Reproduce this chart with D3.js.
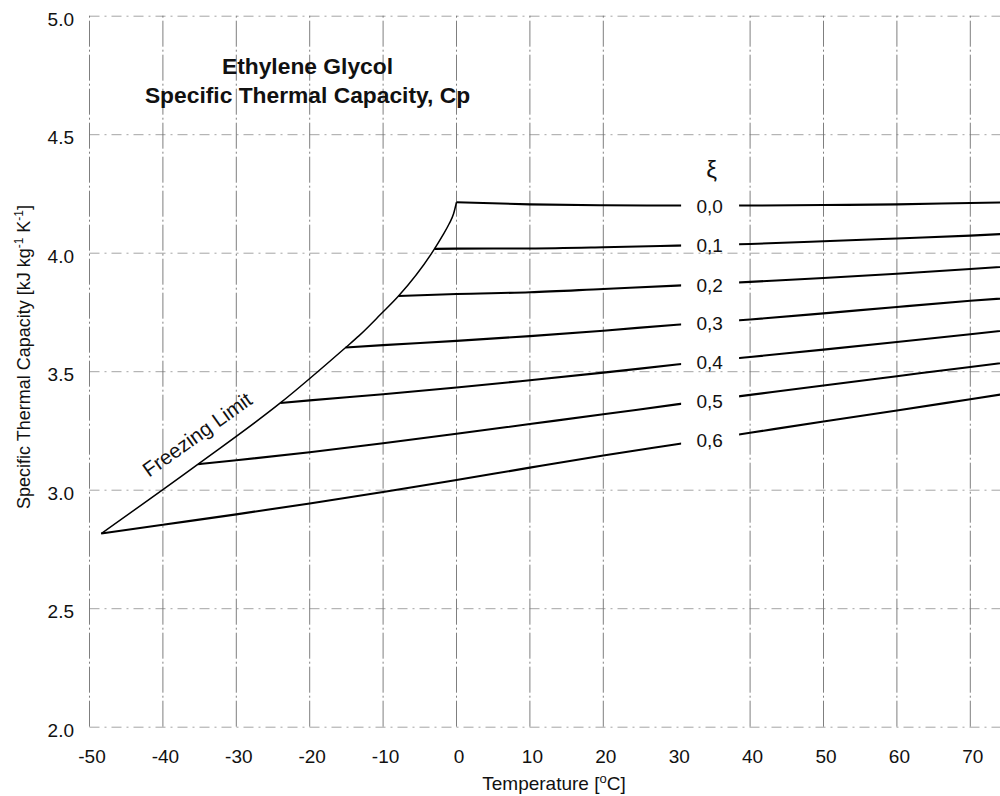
<!DOCTYPE html>
<html><head><meta charset="utf-8">
<script src="https://cdn.jsdelivr.net/npm/d3@7"></script>
<style>
body{margin:0;background:#fff}
svg{display:block}
text{font-family:"Liberation Sans",Arial,Helvetica,sans-serif;fill:#111}
</style>
</head><body>
<svg id="chart" width="1000" height="796"></svg>
<script>
// ---------------- data ----------------
const temperatures = [-40,-30,-20,-10,0,10,20,30,40,50,60,70,80];
const concentrations = ["0,0","0,1","0,2","0,3","0,4","0,5","0,6"];
const freezeT  = [0, -3.0, -7.9, -15.1, -24.0, -35.2, -48.4];
const freezeCp = [4.213, 4.016, 3.817, 3.600, 3.366, 3.108, 2.815];
const cp00 = [null,null,null,null,4.213,4.204,4.200,4.199,4.199,4.201,4.204,4.210,4.215];
const cp01 = [null,null,null,null,4.017,4.018,4.023,4.030,4.037,4.048,4.060,4.072,4.088];
const cp02 = [null,null,null,null,3.826,3.833,3.847,3.861,3.877,3.893,3.911,3.931,3.953];
const cp03 = [null,null,null,3.610,3.628,3.648,3.671,3.696,3.718,3.744,3.771,3.797,3.820];
const cp04 = [null,null,3.377,3.403,3.431,3.462,3.494,3.528,3.560,3.591,3.623,3.656,3.690];
const cp05 = [null,3.124,3.158,3.196,3.236,3.277,3.318,3.360,3.400,3.440,3.479,3.518,3.556];
const cp06 = [2.852,2.896,2.942,2.990,3.041,3.093,3.144,3.192,3.240,3.288,3.334,3.382,3.430];
const seriesValues = [cp00,cp01,cp02,cp03,cp04,cp05,cp06];
const freezingCurveT  = [-48.4,-35.2,-24.0,-15.1,-13.3,-10.3,-7.9,-3.0,-1.9,-1.0,-0.4,0];
const freezingCurveCp = [2.815,3.108,3.366,3.600,3.649,3.741,3.817,4.016,4.072,4.122,4.164,4.213];
const xTicks = [-50,-40,-30,-20,-10,0,10,20,30,40,50,60,70];
const xGridTicks = [-50,-40,-30,-20,-10,0,10,20,40,50,60,70,80];
const yTicks = [2.0,2.5,3.0,3.5,4.0,4.5,5.0];
const titleLines = ["Ethylene Glycol","Specific Thermal Capacity, Cp"];
const labelGap = [30.6, 38.5];   // temperature range left free for the ξ labels
const labelT = 34.5;

// ---------------- layout ----------------
const svg = d3.select("#chart");
const x = d3.scaleLinear().domain([-50,80]).range([89.5, 1043.7]);
const y = d3.scaleLinear().domain([2,5]).range([726.7, 15.7]);
const [x0,x1] = x.range();
const [yb,yt] = y.range();

const defs = svg.append("defs");
const cp = defs.append("clipPath").attr("id","gapclip");
cp.append("rect").attr("x",0).attr("y",0).attr("width",x(labelGap[0])).attr("height",796);
cp.append("rect").attr("x",x(labelGap[1])).attr("y",0).attr("width",1100-x(labelGap[1])).attr("height",796);

// horizontal gridlines + y tick labels
const gy = svg.append("g").attr("transform",`translate(${x0},0)`)
  .call(d3.axisLeft(y).tickValues(yTicks).tickSize(-(x1-x0)).tickPadding(15.5).tickFormat(d3.format(".1f")));
gy.select(".domain").remove();
gy.selectAll(".tick line").attr("stroke","#9a9a9a").attr("stroke-width",0.9).attr("stroke-dasharray","10,5,2,5");
gy.selectAll(".tick text").attr("font-size",19).attr("fill","#111").attr("dy","0.5em")
  .attr("font-family","'Liberation Sans',Arial,sans-serif");

// vertical gridlines
svg.append("g").selectAll("line").data(xGridTicks).join("line")
  .attr("x1",d=>x(d)).attr("x2",d=>x(d)).attr("y1",yb).attr("y2",yt)
  .attr("stroke","#707070").attr("stroke-width",0.9).attr("stroke-dasharray","26,3,2,3");

// x tick labels
const gx = svg.append("g").attr("transform",`translate(0,${yb})`)
  .call(d3.axisBottom(x).tickValues(xTicks).tickSize(0).tickPadding(23.3).tickFormat(d=>String(d)));
gx.select(".domain").remove();
gx.selectAll(".tick text").attr("font-size",19).attr("fill","#111").attr("dx",2)
  .attr("font-family","'Liberation Sans',Arial,sans-serif");

// series
const line = d3.line().x(d=>x(d.t)).y(d=>y(d.v)).curve(d3.curveMonotoneX);
const series = concentrations.map((c,i)=>{
  const pts = [{t:freezeT[i], v:freezeCp[i]}];
  temperatures.forEach((t,j)=>{ const v = seriesValues[i][j]; if(v!=null && t>freezeT[i]) pts.push({t, v}); });
  return {c, pts};
});
svg.append("g").attr("clip-path","url(#gapclip)")
  .selectAll("path").data(series).join("path")
  .attr("d",d=>line(d.pts)).attr("fill","none").attr("stroke","#000").attr("stroke-width",2.1);

// freezing limit curve
const fpts = freezingCurveT.map((t,i)=>({t, v:freezingCurveCp[i]}));
svg.append("path").attr("d",line(fpts)).attr("fill","none").attr("stroke","#000").attr("stroke-width",1.5);

// labels in the gap
function interp(pts,t){
  for(let k=1;k<pts.length;k++){ if(pts[k].t>=t){ const a=pts[k-1],b=pts[k]; return a.v+(b.v-a.v)*(t-a.t)/(b.t-a.t);} }
  return pts[pts.length-1].v;
}
svg.append("g").selectAll("text").data(series).join("text")
  .attr("x",x(labelT)).attr("y",d=>y(interp(d.pts,labelT)))
  .attr("dy","0.4em").attr("text-anchor","middle").attr("font-size",19).text(d=>d.c);
svg.append("text").attr("x",x(labelT)+2).attr("y",y(interp(series[0].pts,labelT))-35)
  .attr("dy","0.3em").attr("text-anchor","middle").attr("font-size",24)
  .attr("font-family","'DejaVu Sans',sans-serif").text("ξ");

// freezing limit label
const fa = {t:-48.4, v:2.815}, fb = {t:-35.2, v:3.108};
const ang = Math.atan2(y(fb.v)-y(fa.v), x(fb.t)-x(fa.t))*180/Math.PI;
svg.append("text").attr("transform",`translate(${x(-41.9)},${y(3.05)}) rotate(${ang})`)
  .attr("font-size",20.5).text("Freezing Limit");

// title
svg.append("text").attr("x",307.5).attr("y",74).attr("text-anchor","middle")
  .attr("font-size",22.8).attr("font-weight","bold").text(titleLines[0]);
svg.append("text").attr("x",307.5).attr("y",103).attr("text-anchor","middle")
  .attr("font-size",22.8).attr("font-weight","bold").text(titleLines[1]);

// axis titles
const xl = svg.append("text").attr("x",554).attr("y",790).attr("text-anchor","middle").attr("font-size",19);
xl.append("tspan").text("Temperature [");
xl.append("tspan").attr("font-size",13).attr("dy",-7).text("o");
xl.append("tspan").attr("dy",7).text("C]");

const yl = svg.append("text").attr("transform","translate(30,357) rotate(-90)").attr("text-anchor","middle").attr("font-size",18);
yl.append("tspan").text("Specific Thermal Capacity [kJ kg");
yl.append("tspan").attr("font-size",12).attr("dy",-7).text("-1");
yl.append("tspan").attr("dy",7).text(" K");
yl.append("tspan").attr("font-size",12).attr("dy",-7).text("-1");
yl.append("tspan").attr("dy",7).text("]");
</script>
</body></html>
